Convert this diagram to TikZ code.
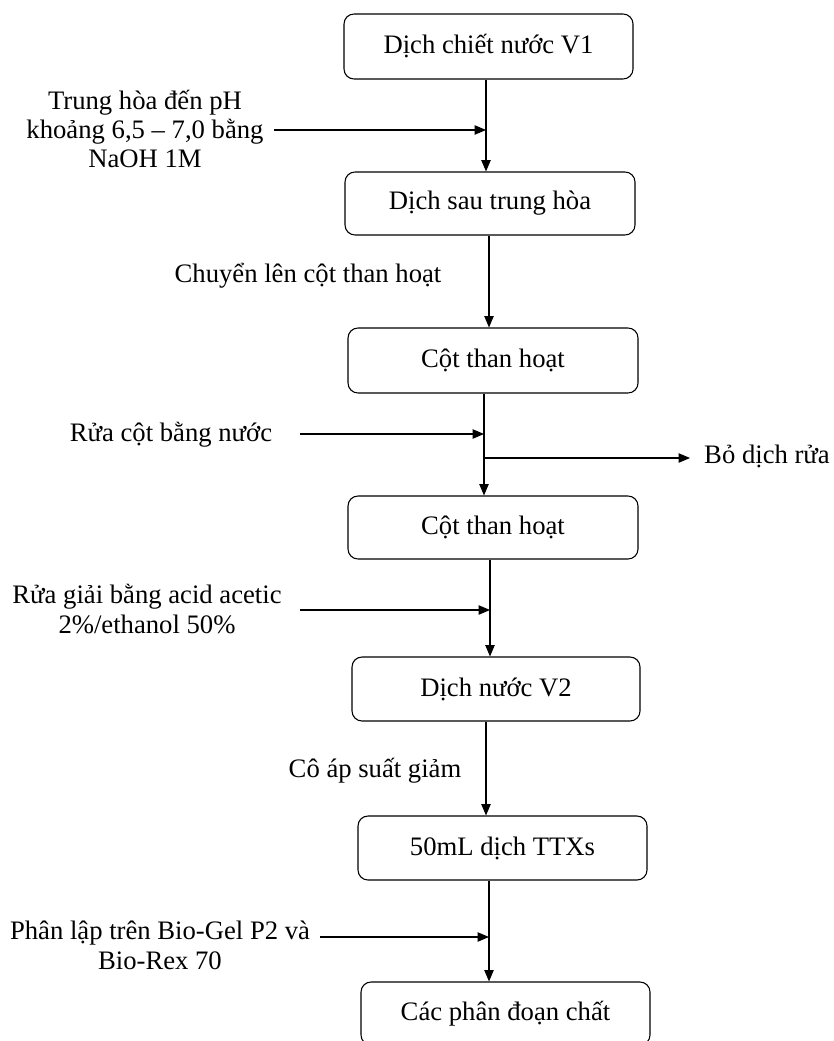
\documentclass[tikz,border=0pt]{standalone}
\usepackage{fontspec}
\setmainfont{Liberation Serif}
\usetikzlibrary{arrows.meta}
\begin{document}
\begin{tikzpicture}[x=0.75pt,y=-0.75pt,
  txt/.style={font=\fontsize{20}{22}\selectfont},
  box/.style={txt, draw, rounded corners=7.5pt, line width=0.8pt, inner sep=0pt, align=center},
  lbl/.style={txt, align=center, inner sep=0pt, anchor=base},
  flow/.style={line width=0.8pt, -{Triangle[length=8.5pt,width=7pt]}}]
\useasboundingbox (0,0) rectangle (833,1041);

% process steps
\node[box, minimum width=216.75pt, minimum height=48.75pt] (b1) at (488.5,46.5)  {Dịch chiết nước V1};
\node[box, minimum width=217.5pt,  minimum height=47.25pt] (b2) at (490,203.5)   {Dịch sau trung hòa};
\node[box, minimum width=217.5pt,  minimum height=48.75pt] (b3) at (493,360.5)   {Cột than hoạt};
\node[box, minimum width=217.5pt,  minimum height=47.25pt] (b4) at (493,527.5)   {Cột than hoạt};
\node[box, minimum width=216pt,    minimum height=48pt]    (b5) at (496,689)     {Dịch nước V2};
\node[box, minimum width=216.75pt, minimum height=48pt]    (b6) at (502.5,848)   {50mL dịch TTXs};
\node[box, minimum width=216.75pt, minimum height=47.25pt] (b7) at (505.5,1013.5) {Các phân đoạn chất};

% side labels (placed on the baseline of their last line)
\node[lbl] (l1) at (145,168) {Trung hòa đến pH\\khoảng 6,5 – 7,0 bằng\\NaOH 1M};
\node[lbl] (l2) at (308,282) {Chuyển lên cột than hoạt};
\node[lbl] (l3) at (171,441) {Rửa cột bằng nước};
\node[lbl] (l4) at (767,463) {Bỏ dịch rửa};
\node[lbl] (l5) at (147,633) {Rửa giải bằng acid acetic\\2\%/ethanol 50\%};
\node[lbl] (l6) at (375,777) {Cô áp suất giảm};
\node[lbl] (l7) at (160,969) {Phân lập trên Bio-Gel P2 và\\Bio-Rex 70};

% x positions of the vertical flow segments
\coordinate (v1) at (486,0);
\coordinate (v2) at (489,0);
\coordinate (v3) at (484,0);
\coordinate (v4) at (490,0);
\coordinate (v5) at (486,0);
\coordinate (v6) at (489,0);

% free ends of the side arrows
\coordinate (s1) at (274,130);
\coordinate (s3) at (300,434);
\coordinate (s4) at (690,458);
\coordinate (s5) at (300,610);
\coordinate (s7) at (320,937);

% main flow
\draw[flow] (b1.south -| v1) -- (b2.north -| v1);
\draw[flow] (b2.south -| v2) -- (b3.north -| v2);
\draw[flow] (b3.south -| v3) -- (b4.north -| v3);
\draw[flow] (b4.south -| v4) -- (b5.north -| v4);
\draw[flow] (b5.south -| v5) -- (b6.north -| v5);
\draw[flow] (b6.south -| v6) -- (b7.north -| v6);

% additions and outputs
\draw[flow] (s1) -- (s1 -| v1);
\draw[flow] (s3) -- (s3 -| v3);
\draw[flow] (s4 -| v3) -- (s4);
\draw[flow] (s5) -- (s5 -| v4);
\draw[flow] (s7) -- (s7 -| v6);
\end{tikzpicture}
\end{document}
